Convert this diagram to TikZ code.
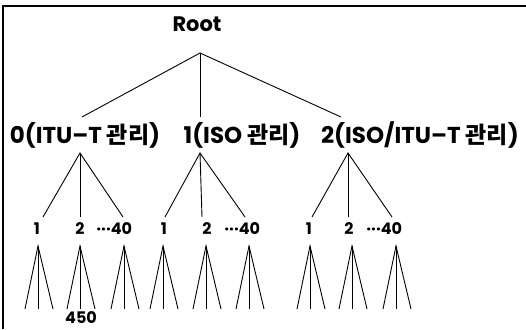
\documentclass[tikz,border=0pt]{standalone}
\usepackage{fontspec}
\setmainfont{Poppins}
\newfontfamily\krfont{Noto Sans CJK KR}
\usetikzlibrary{positioning}

\newcommand{\kr}[1]{{\krfont\bfseries #1}}

\begin{document}
\begin{tikzpicture}[x=1pt,y=-1pt,line width=0.9pt,
    every node/.style={inner sep=0pt},
    rootlabel/.style={font=\bfseries\fontsize{21}{21}\selectfont},
    orglabel/.style={font=\bfseries\fontsize{23}{23}\selectfont},
    arclabel/.style={font=\bfseries\fontsize{16}{16}\selectfont}]
    \useasboundingbox (0,0) rectangle (526,329);
    \draw[line width=1.2pt] (3,329) -- (3,6) -- (526,6);

    \node[rootlabel] (root) at (197,24) {Root};
    \coordinate (rootfork) at (200,53);

    \node[orglabel] (itu) at (85,135) {0(ITU--T \kr{관리})};
    \node[orglabel] (iso) at (242,135) {1(ISO \kr{관리})};
    \node[orglabel] (joint) at (420,135) {2(ISO/ITU--T \kr{관리})};

    \coordinate (itutop) at (82,117);
    \coordinate (isotop) at (200,117);
    \coordinate (jointtop) at (341,117);
    \draw (itutop) -- (rootfork) -- (jointtop);
    \draw (rootfork) -- (isotop);

    % second level arcs
    \foreach \g/\x/\a/\b/\c in {itu/80/43/80/123, iso/200/165/202/245, joint/348/312/348/392} {
        \coordinate (\g-fork) at (\x,153);
        \coordinate (\g-a) at (\a,217);
        \coordinate (\g-b) at (\b,217);
        \coordinate (\g-c) at (\c,217);
        \draw (\g-a) -- (\g-fork) -- (\g-c);
        \draw (\g-fork) -- (\g-b);
    }

    \node[arclabel] (itu-1) at (37,229) {1};
    \node[arclabel] (itu-2) at (80,229) {2};
    \node[arclabel,anchor=west] (itu-40) at (96,229) {···40};
    \node[arclabel] (iso-1) at (164,229) {1};
    \node[arclabel] (iso-2) at (207,229) {2};
    \node[arclabel,anchor=west] (iso-40) at (224,229) {···40};
    \node[arclabel] (joint-1) at (309,229) {1};
    \node[arclabel] (joint-2) at (349,229) {2};
    \node[arclabel,anchor=west] (joint-40) at (366,229) {···40};

    % third level arcs
    \foreach \x [count=\i] in {38,80,124,163,206,249,310,352,396} {
        \coordinate (leaf\i) at (\x,246);
        \coordinate (leaf\i-a) at (\x-13,309);
        \coordinate (leaf\i-b) at (\x,309);
        \coordinate (leaf\i-c) at (\x+15,309);
        \draw (leaf\i-a) -- (leaf\i) -- (leaf\i-c);
        \draw (leaf\i) -- (leaf\i-b);
    }

    \node[arclabel] (leaf450) at (81,318) {450};
\end{tikzpicture}
\end{document}
